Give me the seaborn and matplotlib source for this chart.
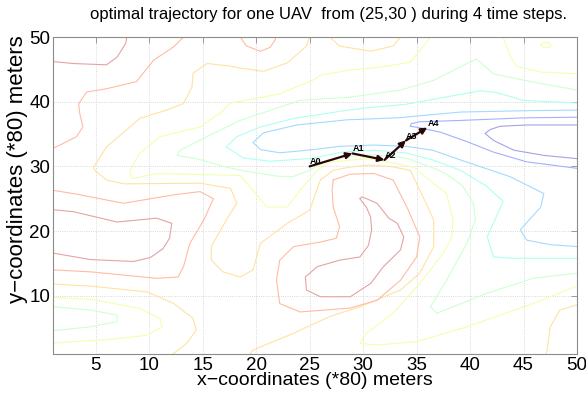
import numpy as np
import matplotlib
matplotlib.use("Agg")
import matplotlib.pyplot as plt
from matplotlib import colors as mcolors
import seaborn as sns

# ---------------- data ----------------
TITLE = "optimal trajectory for one UAV  from (25,30 ) during 4 time steps."
XLABEL = "x\u2212coordinates (*80) meters"
YLABEL = "y\u2212coordinates (*80) meters"
XTICKS = [5, 10, 15, 20, 25, 30, 35, 40, 45, 50]
YTICKS = [10, 20, 30, 40, 50]
XLIM = (1, 50)
YLIM = (1, 50)

# trajectory of the UAV
TRAJ_X = [25, 29, 32, 34, 36]
TRAJ_Y = [30, 32, 31, 34, 36]
TRAJ_LABELS = ["A0", "A1", "A2", "A3", "A4"]

# contour lines, traced per level (1 = lowest / blue ... 9 = highest / red)
L1_PATHS = [
    [(50, 36.4), (45.3, 36.4), (42.8, 36.2), (41.9, 35.7), (41.4, 35.1), (42.2, 34.0),
     (44.1, 32.5), (46.9, 31.7), (50, 31.2)],
]
L2_PATHS = [
    [(50, 37.6), (45, 37.5), (39.1, 37.1), (35.3, 36.9), (34.5, 36.6), (34.4, 36.2),
     (35.2, 36.0), (37.2, 35.3), (39.6, 33.9), (42.2, 32.2), (45.3, 30.7), (50, 29.7)],
]
L3_PATHS = [
    [(50, 38.7), (45, 38.6), (39.1, 38.4), (33.2, 37.5), (28.5, 37.2), (23.8, 36.4),
     (20.7, 35.2), (19.7, 33.7), (20.4, 32.6), (22.2, 32.1), (25.4, 32.6), (27.8, 33.1),
     (31, 33.3), (34, 33.1), (36.5, 32.5), (39.1, 31.0), (43.75, 28.4), (46.9, 25.8),
     (46.6, 23.7), (44.7, 20.2), (45.3, 18.6), (47.5, 17.9), (50, 17.6)],
]
L4_PATHS = [
    [(50, 39.8), (45, 40.2), (42.5, 41.4), (41.0, 41.7), (38, 40.8), (34, 39.6),
     (30, 39.0), (27.8, 38.5), (23.5, 37.4), (20.4, 36.1), (18.2, 34.6), (17.2, 33.0),
     (18.8, 31.3), (21.3, 30.8), (25.0, 31.2), (28, 32.2), (31, 32.5), (34, 32.1),
     (36.5, 31.0), (39.1, 29.4), (41.5, 27.0), (43.1, 24.6), (41.6, 19.1), (42.2, 16.0),
     (44, 15.8), (50, 15.8)],
]
L5_PATHS = [
    [(50, 41.8), (46, 43.0), (42.2, 44.3), (40.6, 46.6), (39.1, 45.4), (36.6, 43.3),
     (33.5, 41.8), (28.8, 40.7), (24.1, 40.2), (18.5, 37.1), (15.4, 34.6), (12.9, 32.5),
     (12.6, 31.7), (14.4, 31.2), (17.2, 29.9), (18.5, 29.4), (21.9, 28.5), (23.4, 28.4),
     (25.0, 29.4), (26.5, 30.8), (28.5, 31.5), (31, 31.8), (34, 31.3), (36.5, 29.8),
     (37.8, 28.8), (39.3, 27.0), (40.3, 24.3), (40.5, 21.7), (39.7, 18.1), (37.8, 12.4),
     (36.3, 8.3), (36.9, 7.3), (41.6, 10.4), (45.9, 12.7), (50, 13.5)],
    [(1, 8.3), (4.5, 7.8), (7.0, 7.0), (7.0, 6.0), (4.5, 5.2), (1, 4.6)],
]
L6_PATHS = [
    [(36.3, 50), (35.3, 47.9), (34.4, 46.1), (31.9, 45.4), (28.8, 44.9), (26.0, 44.1),
     (25.4, 43.4), (22.2, 41.2), (17.6, 39.8), (16.6, 38.2), (14.75, 36.1), (11.0, 34.6),
     (9.1, 32.0), (8.2, 29.4), (8.4, 28.1), (10.7, 28.9), (18.5, 28.6), (19.7, 26.3),
     (21.0, 23.7), (22.9, 23.7), (24.1, 26.3), (25.7, 29.4), (26.9, 30.7), (30.7, 31.2),
     (34.7, 29.9), (37.8, 25.8), (38.4, 21.7), (38.3, 19.1), (37.5, 16.6), (35.3, 11.9),
     (32.8, 7.3), (30.3, 4.2), (29.7, 2.65), (31.3, 2.4), (35.0, 2.9), (39.7, 5.2),
     (45.9, 8.8), (50, 11.5)],
    [(43.1, 50), (43.75, 46.9), (44.4, 45.4), (46.6, 44.6), (50, 44.3)],
    [(46.6, 48.8), (47.0, 48.3), (47.6, 48.5), (47.4, 49.1), (46.9, 49.2), (46.6, 48.8)],
    [(1, 9.75), (4.8, 9.4), (9.1, 8.05), (11.0, 6.5), (11.2, 5.2), (9.8, 3.9),
     (6.0, 3.2), (2.9, 2.9), (1, 2.65)],
]
L7_PATHS = [
    [(25.0, 50), (24.7, 48.6), (22.9, 46.0), (20.7, 44.7), (18.5, 45.2), (17.6, 45.5),
     (15.4, 45.9), (14.1, 44.4), (14.0, 42.3), (13.2, 39.7), (11.6, 38.7), (9.1, 37.4),
     (6.0, 33.0), (4.8, 29.9), (4.9, 29.4), (6.0, 27.9), (7.6, 27.3), (14.75, 27.4),
     (17.6, 26.6), (18.2, 24.3), (17.2, 21.7), (15.8, 17.6), (15.8, 15.5), (16.9, 13.7),
     (18.5, 12.9), (19.7, 14.0), (20.4, 18.1), (22.9, 21.2), (25.0, 23.2), (26.0, 27.9),
     (27.2, 29.4), (28.8, 29.9), (30.5, 30.2), (32.5, 30.0), (34.4, 29.4), (35.6, 25.3),
     (36.6, 21.7), (36.6, 17.6), (35.3, 13.5), (33.5, 10.9), (29.7, 8.3), (26.9, 6.8),
     (24.1, 4.7), (23.5, 4.2), (20.4, 2.1), (19.7, 1.6), (19.4, 1)],
    [(1, 11.8), (4.5, 11.5), (9.8, 10.6), (12.3, 8.8), (14.1, 6.5), (14.4, 4.7),
     (13.5, 2.65), (12.3, 1.1), (12.2, 1)],
    [(26.9, 50), (27.8, 48.6), (30.7, 47.8), (32.8, 48.6), (33.5, 50)],
    [(47.1, 1), (47.2, 1.6), (47.5, 5.2), (48.4, 7.8), (50, 8.6)],
]
L8_PATHS = [
    [(1, 32.8), (1.65, 33.3), (3.2, 34.6), (3.8, 36.1), (3.5, 38.2), (3.4, 39.7),
     (4.15, 41.5), (6.0, 42.0), (8.8, 43.1), (10.4, 46.4), (12.3, 48.5), (13.2, 50)],
    [(18.5, 50), (19.1, 48.6), (20.4, 47.8), (21.3, 48.4), (21.8, 49.6), (21.8, 50)],
    [(1, 26.3), (2.9, 25.8), (7.6, 24.3), (12.3, 25.6), (14.75, 26.1), (16.0, 25.0),
     (15.1, 21.7), (13.8, 18.1), (13.2, 14.5), (12.7, 12.9), (10.7, 12.7), (4.5, 13.7),
     (1, 14.0)],
    [(27.2, 27.9), (28.8, 28.8), (31.0, 28.9), (32.8, 27.9), (34.1, 23.7), (35.3, 19.1),
     (35.0, 16.0), (33.5, 12.4), (31.3, 9.3), (28.8, 8.1), (24.1, 7.5), (22.2, 8.8),
     (21.9, 12.4), (22.2, 15.5), (23.5, 17.6), (26.0, 18.3), (27.5, 18.9), (27.8, 20.7),
     (27.2, 23.7), (27.1, 26.3), (27.2, 27.9)],
]
L9_PATHS = [
    [(1, 46.2), (2.9, 45.9), (6.0, 45.7), (7.0, 46.9), (7.8, 49.0), (7.9, 50)],
    [(1, 23.3), (2.9, 23.0), (7.0, 21.4), (10.7, 22.0), (12.1, 21.2), (11.9, 18.9),
     (11.3, 17.3), (10.1, 15.9), (8.5, 15.3), (4.5, 15.6), (1, 16.6)],
    [(29.7, 25.0), (30.3, 23.7), (30.7, 22.2), (30.8, 20.2), (30.5, 17.8), (29.7, 16.0),
     (27.8, 15.5), (25.7, 14.5), (24.6, 12.9), (24.7, 10.9), (26.0, 9.85), (28.8, 9.85),
     (30.7, 11.9), (31.9, 14.5), (33.5, 17.1), (33.8, 19.1), (33.2, 21.2), (32.4, 22.0),
     (31.3, 24.3), (29.9, 25.3), (29.7, 25.0)],
]

LEVEL_PATHS = [L1_PATHS, L2_PATHS, L3_PATHS, L4_PATHS, L5_PATHS,
               L6_PATHS, L7_PATHS, L8_PATHS, L9_PATHS]

# ---------------- styling ----------------
sns.set_style("white")
plt.rcParams["font.family"] = ["Liberation Sans", "DejaVu Sans"]
plt.rcParams["text.color"] = "black"
plt.rcParams["axes.labelcolor"] = "black"
plt.rcParams["xtick.color"] = "black"
plt.rcParams["ytick.color"] = "black"

fig = plt.figure(figsize=(5.86, 3.99), dpi=100)
ax = fig.add_axes([53 / 586, 1 - 354 / 399, (577 - 53) / 586, (354 - 37) / 399])

jet = plt.get_cmap("jet")
fade = 0.36
fracs = np.linspace(0.05, 0.95, len(LEVEL_PATHS))
for frac, paths in zip(fracs, LEVEL_PATHS):
    base = np.array(mcolors.to_rgb(jet(frac)))
    col = tuple(1 - fade + fade * base)
    for path in paths:
        px = [p[0] for p in path]
        py = [p[1] for p in path]
        sns.lineplot(x=px, y=py, sort=False, estimator=None, color=col,
                     linewidth=0.8, ax=ax, legend=False)

# trajectory arrows
for i in range(len(TRAJ_X) - 1):
    ax.annotate("", xy=(TRAJ_X[i + 1], TRAJ_Y[i + 1]), xytext=(TRAJ_X[i], TRAJ_Y[i]),
                arrowprops=dict(arrowstyle="-|>", color="#2a0606", lw=1.6,
                                mutation_scale=9, shrinkA=0, shrinkB=0))
for x, y, lab in zip(TRAJ_X, TRAJ_Y, TRAJ_LABELS):
    ax.text(x, y, lab, fontsize=6.5, fontweight="bold", ha="left", va="bottom",
            color="black")

ax.set_xlim(*XLIM)
ax.set_ylim(*YLIM)
ax.set_xticks(XTICKS)
ax.set_yticks(YTICKS)
ax.grid(True, linestyle=":", color="#cccccc", linewidth=0.6)
for s in ax.spines.values():
    s.set_color("#8c8c8c")
    s.set_linewidth(0.8)
ax.tick_params(direction="in", length=4, width=0.6, color="#8c8c8c",
               labelcolor="black", top=True, right=True, labelsize=13.5, pad=2)

ax.set_xlabel(XLABEL, fontsize=14, labelpad=-1)
fig.text(18 / 586, 1 - 169 / 399, YLABEL, rotation=90, ha="center", va="center",
         fontsize=16)
fig.text(329 / 586, 1 - 15 / 399, TITLE, ha="center", va="center", fontsize=12)

fig.savefig("out.png", dpi=100, facecolor="white")
